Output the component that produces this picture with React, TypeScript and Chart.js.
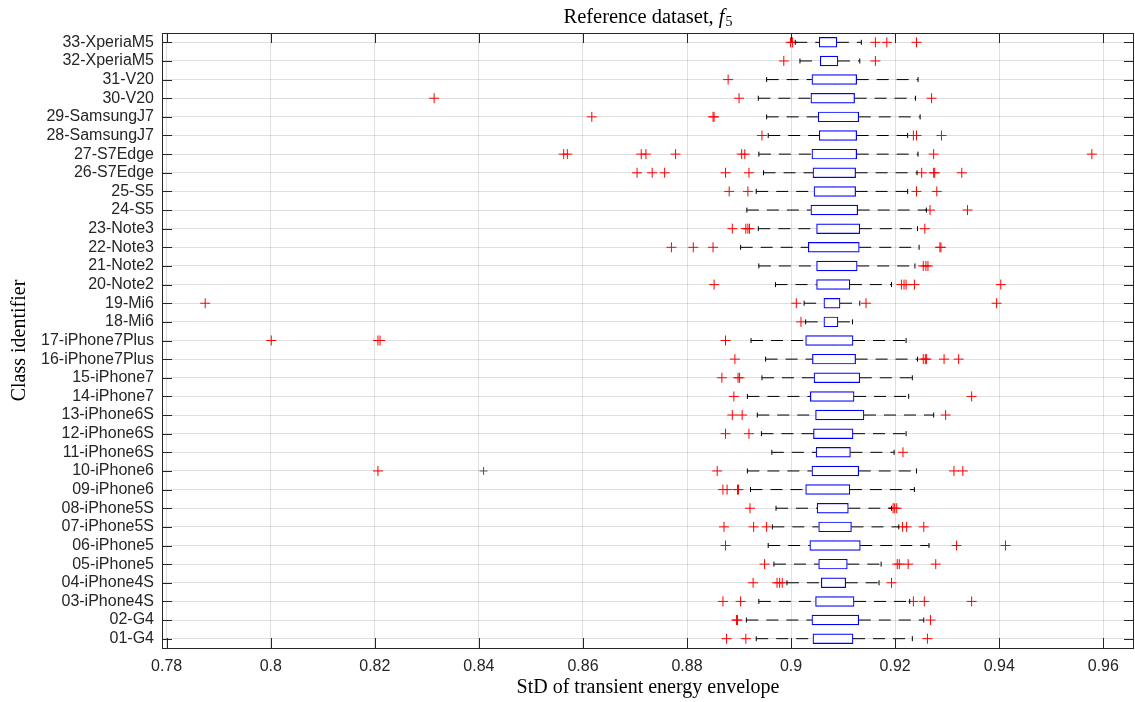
import React, { useEffect, useRef } from 'react';
import { Chart, registerables } from 'chart.js';

Chart.register(...registerables);

// ---- Data ----
const categories = [
  '01-G4', '02-G4', '03-iPhone4S', '04-iPhone4S', '05-iPhone5', '06-iPhone5',
  '07-iPhone5S', '08-iPhone5S', '09-iPhone6', '10-iPhone6', '11-iPhone6S',
  '12-iPhone6S', '13-iPhone6S', '14-iPhone7', '15-iPhone7', '16-iPhone7Plus',
  '17-iPhone7Plus', '18-Mi6', '19-Mi6', '20-Note2', '21-Note2', '22-Note3',
  '23-Note3', '24-S5', '25-S5', '26-S7Edge', '27-S7Edge', '28-SamsungJ7',
  '29-SamsungJ7', '30-V20', '31-V20', '32-XperiaM5', '33-XperiaM5',
];

const whiskerLow = [
  0.8933, 0.8914, 0.8938, 0.8992, 0.8967, 0.8956, 0.8964, 0.8971, 0.8922, 0.8916, 0.8963,
  0.8943, 0.8935, 0.8916, 0.8944, 0.8951, 0.8923, 0.9028, 0.9025, 0.8970, 0.8938, 0.8903,
  0.8937, 0.8915, 0.8933, 0.8947, 0.8938, 0.8956, 0.8953, 0.8937, 0.8953, 0.9017, 0.9008,
];
const quartile1 = [
  0.9042, 0.9040, 0.9047, 0.9058, 0.9053, 0.9036, 0.9053, 0.9050, 0.9028, 0.9040, 0.9048,
  0.9043, 0.9047, 0.9037, 0.9044, 0.9041, 0.9028, 0.9063, 0.9063, 0.9049, 0.9049, 0.9033,
  0.9049, 0.9038, 0.9044, 0.9042, 0.9040, 0.9054, 0.9052, 0.9038, 0.9040, 0.9056, 0.9054,
];
const medians = [
  0.9082, 0.9086, 0.9082, 0.9080, 0.9076, 0.9079, 0.9080, 0.9080, 0.9073, 0.9087, 0.9074,
  0.9083, 0.9090, 0.9085, 0.9085, 0.9078, 0.9081, 0.9076, 0.9081, 0.9085, 0.9085, 0.9078,
  0.9094, 0.9081, 0.9079, 0.9087, 0.9078, 0.9087, 0.9084, 0.9078, 0.9084, 0.9072, 0.9071,
];
const quartile3 = [
  0.9119, 0.9130, 0.9121, 0.9105, 0.9108, 0.9133, 0.9116, 0.9110, 0.9113, 0.9130, 0.9114,
  0.9119, 0.9140, 0.9121, 0.9132, 0.9124, 0.9119, 0.9090, 0.9094, 0.9113, 0.9127, 0.9131,
  0.9132, 0.9128, 0.9124, 0.9124, 0.9126, 0.9126, 0.9130, 0.9122, 0.9126, 0.9090, 0.9088,
];
const whiskerHigh = [
  0.9233, 0.9255, 0.9228, 0.9169, 0.9173, 0.9265, 0.9207, 0.9193, 0.9237, 0.9241, 0.9198,
  0.9221, 0.9274, 0.9226, 0.9233, 0.9243, 0.9221, 0.9118, 0.9132, 0.9193, 0.9238, 0.9246,
  0.9243, 0.9260, 0.9224, 0.9242, 0.9244, 0.9224, 0.9248, 0.9239, 0.9244, 0.9132, 0.9135,
];
const outliers: number[][] = [
  [0.8876, 0.8913, 0.9262],
  [0.8895, 0.8897, 0.9268],
  [0.8869, 0.8903, 0.9235, 0.9256, 0.9347],
  [0.8927, 0.8973, 0.8978, 0.8983, 0.9193],
  [0.8949, 0.9204, 0.9208, 0.9225, 0.9278],
  [0.8874, 0.9318, 0.9412],
  [0.8871, 0.8928, 0.8953, 0.9214, 0.9222, 0.9255],
  [0.8921, 0.9196, 0.9199, 0.9203],
  [0.8869, 0.8877, 0.8897, 0.8899],
  [0.8206, 0.8858, 0.9313, 0.9330],
  [0.9215],
  [0.8874, 0.8919],
  [0.8887, 0.8906, 0.9297],
  [0.8890, 0.9347],
  [0.8867, 0.8898, 0.8901],
  [0.8892, 0.9254, 0.9258, 0.9260, 0.9294, 0.9322],
  [0.8001, 0.8206, 0.8210, 0.8874],
  [0.9019],
  [0.7874, 0.9010, 0.9144, 0.9395],
  [0.8852, 0.9212, 0.9217, 0.9221, 0.9237, 0.9403],
  [0.9254, 0.9259, 0.9263],
  [0.8770, 0.8812, 0.8850, 0.9286, 0.9288],
  [0.8887, 0.8913, 0.8917, 0.8920, 0.9257],
  [0.9267, 0.9339],
  [0.8881, 0.8917, 0.9241, 0.9280],
  [0.8704, 0.8733, 0.8757, 0.8874, 0.8919, 0.9251, 0.9274, 0.9276, 0.9328],
  [0.8563, 0.8570, 0.8712, 0.8721, 0.8778, 0.8905, 0.8911, 0.9274, 0.9578],
  [0.8944, 0.9235, 0.9241, 0.9289],
  [0.8617, 0.8850, 0.8852],
  [0.8314, 0.8900, 0.9270],
  [0.8879],
  [0.8986, 0.9162],
  [0.8999, 0.9003, 0.9162, 0.9184, 0.9241],
];
const grayOutlierRows = [10];
const grayOutlierValues = [0.8409];

const xTickValues = [0.78, 0.8, 0.82, 0.84, 0.86, 0.88, 0.9, 0.92, 0.94, 0.96];
const xTickLabels = ['0.78', '0.8', '0.82', '0.84', '0.86', '0.88', '0.9', '0.92', '0.94', '0.96'];

const titleMain = 'Reference dataset, ';
const titleVar = 'f';
const titleSub = '5';
const xTitle = 'StD of transient energy envelope';
const yTitle = 'Class identifier';

const AXIS = '#262626';
const GRID = 'rgba(38,38,38,0.15)';
const SERIF = '"Liberation Serif", "DejaVu Serif", serif';
const SANS = '"Liberation Sans", Arial, Helvetica, sans-serif';

const framePlugin = {
  id: 'frameTicks',
  afterDatasetsDraw(chart: any) {
    const { ctx, chartArea } = chart;
    const { left, right, top, bottom } = chartArea;
    const xs = chart.scales.x;
    const ys = chart.scales.y;
    const L = 10;
    ctx.save();
    ctx.strokeStyle = AXIS;
    ctx.lineWidth = 1;
    ctx.beginPath();
    xTickValues.forEach((v) => {
      const px = Math.round(xs.getPixelForValue(v)) + 0.5;
      ctx.moveTo(px, bottom);
      ctx.lineTo(px, bottom - L);
      ctx.moveTo(px, top);
      ctx.lineTo(px, top + L);
    });
    categories.forEach((_, i) => {
      const py = Math.round(ys.getPixelForValue(i + 1)) + 0.5;
      ctx.moveTo(left, py);
      ctx.lineTo(left + L, py);
      ctx.moveTo(right, py);
      ctx.lineTo(right - L, py);
    });
    ctx.stroke();
    ctx.strokeRect(Math.round(left) + 0.5, Math.round(top) + 0.5, Math.round(right - left) - 1, Math.round(bottom - top));
    ctx.restore();
  },
  afterDraw(chart: any) {
    const { ctx, chartArea } = chart;
    const cx = (chartArea.left + chartArea.right) / 2;
    ctx.save();
    ctx.fillStyle = '#000000';
    ctx.textBaseline = 'alphabetic';
    const mainFont = `20.5px ${SERIF}`;
    const italFont = `italic 20.5px ${SERIF}`;
    const subFont = `14px ${SERIF}`;
    ctx.font = mainFont;
    const w1 = ctx.measureText(titleMain).width;
    ctx.font = italFont;
    const w2 = ctx.measureText(titleVar).width;
    ctx.font = subFont;
    const w3 = ctx.measureText(titleSub).width;
    let x = cx - (w1 + w2 + w3 + 1) / 2;
    const y = 23;
    ctx.font = mainFont;
    ctx.fillText(titleMain, x, y);
    x += w1;
    ctx.font = italFont;
    ctx.fillText(titleVar, x, y);
    x += w2 + 1;
    ctx.font = subFont;
    ctx.fillText(titleSub, x, y + 3);
    ctx.restore();
  },
};

export default function App() {
  const ref = useRef<HTMLCanvasElement>(null);

  useEffect(() => {
    if (!ref.current) return;
    const rows = categories.map((_, i) => i + 1);
    const gap = { x: NaN, y: NaN };
    const boxData = rows.map((y, i) => ({ y, x: [quartile1[i], quartile3[i]] }));
    const medianData = rows.map((y, i) => ({ x: medians[i], y }));
    const lowWhisker = rows.flatMap((y, i) => [{ x: whiskerLow[i], y }, { x: quartile1[i], y }, gap]);
    const highWhisker = rows.flatMap((y, i) => [{ x: quartile3[i], y }, { x: whiskerHigh[i], y }, gap]);
    const capData = rows.flatMap((y, i) => [{ x: whiskerLow[i], y }, { x: whiskerHigh[i], y }]);
    const outlierData = rows.flatMap((y, i) => outliers[i].map((x) => ({ x, y })));
    const grayData = grayOutlierRows.map((r, i) => ({ x: grayOutlierValues[i], y: r }));

    const chart = new Chart(ref.current, {
      type: 'scatter',
      data: {
        datasets: [
          {
            type: 'line',
            data: lowWhisker,
            borderColor: '#000000',
            borderWidth: 1,
            borderDash: [12, 8],
            pointRadius: 0,
            spanGaps: false,
            fill: false,
            tension: 0,
          } as any,
          {
            type: 'line',
            data: highWhisker,
            borderColor: '#000000',
            borderWidth: 1,
            borderDash: [12, 8],
            pointRadius: 0,
            spanGaps: false,
            fill: false,
            tension: 0,
          } as any,
          {
            type: 'bar',
            indexAxis: 'y',
            data: boxData,
            backgroundColor: 'rgba(255,255,255,1)',
            borderColor: '#0000ff',
            borderWidth: 1.2,
            borderSkipped: false,
            barThickness: 9.8,
            grouped: false,
          } as any,
          {
            type: 'scatter',
            data: medianData,
            pointStyle: 'line',
            rotation: 90,
            pointRadius: 4.8,
            borderColor: '#ff0000',
            backgroundColor: '#ff0000',
            borderWidth: 1,
          } as any,
          {
            type: 'scatter',
            data: capData,
            pointStyle: 'line',
            rotation: 90,
            pointRadius: 2.5,
            borderColor: '#000000',
            backgroundColor: '#000000',
            borderWidth: 1,
          } as any,
          {
            type: 'scatter',
            data: outlierData,
            pointStyle: 'cross',
            pointRadius: 5,
            borderColor: '#ff0000',
            backgroundColor: '#ff0000',
            borderWidth: 1,
          } as any,
          {
            type: 'scatter',
            data: grayData,
            pointStyle: 'cross',
            pointRadius: 4,
            borderColor: '#555555',
            backgroundColor: '#555555',
            borderWidth: 1,
          } as any,
        ],
      },
      options: {
        responsive: false,
        animation: false,
        events: [],
        layout: { autoPadding: false, padding: { top: 33, right: 1, left: 0, bottom: 0 } },
        plugins: {
          legend: { display: false },
          tooltip: { enabled: false },
          title: { display: false },
        },
        scales: {
          x: {
            type: 'linear',
            position: 'bottom',
            min: 0.7791,
            max: 0.9659,
            offset: false,
            afterBuildTicks: (s: any) => {
              s.ticks = xTickValues.map((value) => ({ value }));
            },
            afterFit: (s: any) => {
              s.height = 54;
              s.paddingLeft = 0;
              s.paddingRight = 0;
            },
            ticks: {
              autoSkip: false,
              maxRotation: 0,
              padding: 9,
              color: AXIS,
              font: { family: SANS, size: 16 },
              callback: (v: any) => {
                const i = xTickValues.findIndex((t) => Math.abs(t - Number(v)) < 1e-9);
                return i >= 0 ? xTickLabels[i] : '';
              },
            },
            grid: { color: GRID, drawTicks: false, lineWidth: 1, offset: false },
            border: { display: false },
            title: {
              display: true,
              text: xTitle,
              color: '#000000',
              font: { family: SERIF, size: 20 },
              padding: { top: 0, bottom: 2 },
            },
          },
          y: {
            type: 'linear',
            min: 0.5,
            max: 33.5,
            offset: false,
            afterBuildTicks: (s: any) => {
              s.ticks = rows.map((value) => ({ value }));
            },
            afterFit: (s: any) => {
              s.width = 162;
              s.paddingTop = 0;
              s.paddingBottom = 0;
            },
            ticks: {
              autoSkip: false,
              padding: 8,
              color: AXIS,
              font: { family: SANS, size: 16 },
              callback: (v: any) => categories[Math.round(Number(v)) - 1] ?? '',
            },
            grid: { color: GRID, drawTicks: false, lineWidth: 1, offset: false },
            border: { display: false },
            title: {
              display: true,
              text: yTitle,
              color: '#000000',
              font: { family: SERIF, size: 20 },
              padding: { top: 8, bottom: 0 },
            },
          },
        },
      },
      plugins: [framePlugin],
    } as any);

    return () => chart.destroy();
  }, []);

  return (
    <div style={{ position: 'absolute', left: 0, top: 0, width: 1135, height: 702, background: '#fff' }}>
      <canvas ref={ref} width={1135} height={702} style={{ display: 'block' }} />
    </div>
  );
}
